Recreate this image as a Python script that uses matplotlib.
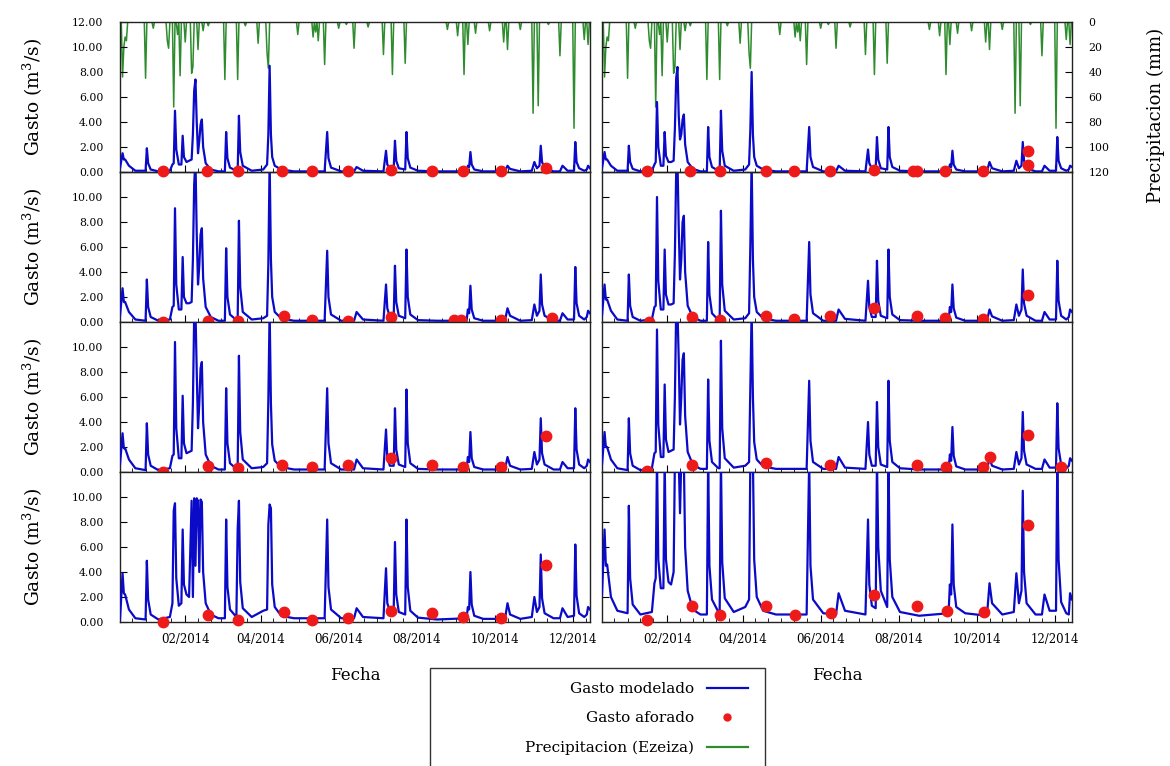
import matplotlib
matplotlib.use('Agg')
import matplotlib.pyplot as plt
import matplotlib.dates as mdates
import matplotlib.ticker as mticker
from matplotlib.lines import Line2D
from matplotlib.patches import Rectangle
import numpy as np

plt.rcParams['font.family'] = 'DejaVu Serif'
plt.rcParams['mathtext.fontset'] = 'dejavuserif'

# dias contados desde 2014-01-01 (vertices del hidrograma, comunes a todos los paneles)
dias = [-20, -18, -17, -16, -13, -8,
        0, 1, 2, 4, 10,
        19, 21, 22, 23, 24, 26,
        28, 29, 30, 32, 34,
        36, 37, 38, 39, 40, 41, 42, 43, 44, 45, 47, 51, 57,
        62, 63, 64, 66, 71,
        72, 73, 74, 76, 83,
        92, 95, 96, 97, 98, 99, 101, 106, 116,
        140, 142, 143, 145, 153,
        163, 165, 170,
        186, 188, 189, 191,
        194, 195, 196, 198,
        203, 204, 205, 207, 213, 228,
        251, 252, 253, 254, 255, 257, 264,
        281, 283, 285, 293,
        302, 304, 306, 308, 309, 310, 312, 319,
        324, 326, 330,
        335, 336, 337, 339, 343,
        345, 346, 347.5]

# gasto modelado (m3/s)
q1_izq = [0.3, 1.5, 1.0, 1.0, 0.5, 0.1,
          0.1, 1.9, 0.7, 0.2, 0.05,
          0.1, 0.6, 0.7, 4.9, 1.8, 0.6,
          0.6, 2.9, 1.2, 0.8, 0.9,
          1.0, 3.0, 6.5, 7.4, 4.0, 1.5, 2.5, 3.8, 4.2, 2.0, 0.7, 0.2, 0.05,
          0.05, 3.2, 1.1, 0.35, 0.1,
          0.1, 4.5, 1.6, 0.5, 0.1,
          0.2, 0.6, 3.0, 8.5, 3.0, 1.2, 0.5, 0.2, 0.05,
          0.05, 3.2, 1.1, 0.35, 0.05,
          0.05, 0.4, 0.1,
          0.05, 1.7, 0.6, 0.3,
          0.3, 2.5, 0.9, 0.3,
          0.2, 3.2, 1.1, 0.35, 0.1, 0.05,
          0.05, 0.5, 0.4, 1.6, 0.6, 0.2, 0.05,
          0.05, 0.5, 0.25, 0.05,
          0.1, 0.8, 0.3, 0.5, 2.1, 0.8, 0.3, 0.05,
          0.05, 0.5, 0.1,
          0.1, 2.4, 0.8, 0.3, 0.1,
          0.2, 0.5, 0.3]
q1_der = [0.3, 1.6, 1.0, 1.0, 0.5, 0.1,
          0.1, 2.1, 0.8, 0.25, 0.05,
          0.1, 0.6, 0.8, 5.6, 2.0, 0.5,
          0.5, 3.2, 1.3, 0.8, 0.8,
          0.9, 3.5, 7.5, 8.4, 4.5, 2.6, 3.0, 4.2, 4.6, 2.2, 0.8, 0.25, 0.05,
          0.05, 3.6, 1.2, 0.4, 0.1,
          0.1, 4.9, 1.7, 0.5, 0.1,
          0.2, 0.6, 3.4, 8.0, 3.0, 1.2, 0.5, 0.2, 0.05,
          0.05, 3.6, 1.2, 0.4, 0.05,
          0.05, 0.5, 0.1,
          0.05, 1.8, 0.7, 0.3,
          0.3, 2.8, 1.0, 0.3,
          0.2, 3.6, 1.2, 0.4, 0.1, 0.05,
          0.05, 0.6, 0.4, 1.7, 0.6, 0.2, 0.05,
          0.05, 0.8, 0.3, 0.05,
          0.1, 0.9, 0.3, 0.5, 2.4, 0.9, 0.3, 0.05,
          0.05, 0.5, 0.1,
          0.1, 2.8, 0.9, 0.3, 0.1,
          0.2, 0.5, 0.4]
q2_izq = [0.5, 2.7, 1.6, 1.6, 0.8, 0.2,
          0.1, 3.4, 1.2, 0.4, 0.1,
          0.2, 1.2, 1.3, 9.1, 3.0, 1.0,
          1.0, 5.2, 2.0, 1.5, 1.5,
          1.6, 5.0, 11.0, 13.0, 7.0, 3.0, 4.5, 7.0, 7.5, 3.5, 1.2, 0.4, 0.1,
          0.1, 5.9, 2.0, 0.6, 0.15,
          0.15, 8.1, 2.8, 0.8, 0.2,
          0.3, 0.5, 4.7, 13.0, 5.0, 2.0, 0.8, 0.3, 0.1,
          0.1, 5.7, 2.0, 0.6, 0.1,
          0.1, 0.8, 0.2,
          0.1, 3.0, 1.1, 0.4,
          0.4, 4.5, 1.6, 0.5,
          0.3, 5.8, 2.0, 0.6, 0.15, 0.1,
          0.1, 1.0, 0.7, 2.9, 1.0, 0.3, 0.1,
          0.1, 1.1, 0.5, 0.1,
          0.15, 1.4, 0.5, 0.9, 3.8, 1.4, 0.5, 0.1,
          0.1, 0.7, 0.2,
          0.2, 4.4, 1.5, 0.5, 0.2,
          0.4, 0.9, 0.7]
q2_der = [0.5, 3.0, 1.8, 1.8, 0.9, 0.2,
          0.1, 3.8, 1.3, 0.4, 0.1,
          0.2, 1.2, 1.3, 10.0, 3.3, 1.0,
          1.0, 5.8, 2.2, 1.4, 1.4,
          1.5, 5.5, 12.0, 13.0, 7.5, 3.4, 5.0, 8.0, 8.5, 4.0, 1.3, 0.4, 0.1,
          0.1, 6.4, 2.2, 0.7, 0.15,
          0.15, 8.9, 3.0, 0.9, 0.2,
          0.3, 0.7, 6.1, 13.0, 5.0, 2.0, 0.8, 0.3, 0.1,
          0.1, 6.4, 2.2, 0.7, 0.1,
          0.1, 1.0, 0.25,
          0.1, 3.3, 1.2, 0.4,
          0.4, 4.9, 1.7, 0.5,
          0.3, 5.8, 2.0, 0.6, 0.15, 0.1,
          0.1, 1.2, 0.8, 3.0, 1.1, 0.35, 0.1,
          0.1, 1.0, 0.45, 0.1,
          0.15, 1.4, 0.5, 1.0, 4.2, 1.5, 0.5, 0.1,
          0.1, 0.8, 0.2,
          0.2, 4.9, 1.7, 0.5, 0.2,
          0.4, 1.0, 0.8]
q3_izq = [0.6, 3.1, 1.9, 1.9, 1.0, 0.3,
          0.15, 3.9, 1.4, 0.5, 0.15,
          0.3, 1.3, 1.4, 10.4, 3.5, 1.1,
          1.1, 6.1, 2.3, 1.5, 1.6,
          1.7, 5.5, 12.5, 13.0, 8.0, 3.5, 5.5, 8.3, 8.8, 4.0, 1.4, 0.5, 0.2,
          0.2, 6.7, 2.3, 0.7, 0.25,
          0.25, 9.3, 3.2, 1.0, 0.3,
          0.4, 0.7, 5.8, 13.0, 5.5, 2.2, 0.9, 0.4, 0.2,
          0.2, 6.7, 2.3, 0.7, 0.2,
          0.2, 1.0, 0.3,
          0.2, 3.4, 1.2, 0.5,
          0.5, 5.1, 1.8, 0.6,
          0.4, 6.6, 2.3, 0.7, 0.25, 0.2,
          0.2, 1.2, 0.8, 3.2, 1.1, 0.4, 0.2,
          0.2, 1.2, 0.5, 0.2,
          0.25, 1.6, 0.6, 1.0, 4.3, 1.5, 0.6, 0.2,
          0.2, 0.8, 0.3,
          0.3, 5.1, 1.8, 0.6, 0.3,
          0.5, 1.0, 0.8]
q3_der = [0.6, 3.2, 2.0, 2.0, 1.0, 0.3,
          0.15, 4.3, 1.5, 0.5, 0.15,
          0.3, 1.5, 1.6, 11.4, 3.8, 1.2,
          1.2, 7.0, 2.6, 1.6, 1.7,
          1.8, 6.0, 13.0, 13.0, 9.0, 3.8, 6.0, 9.0, 9.5, 4.5, 1.6, 0.6, 0.25,
          0.25, 7.4, 2.5, 0.8, 0.3,
          0.3, 10.5, 3.5, 1.1, 0.35,
          0.5, 0.8, 6.8, 13.0, 6.0, 2.4, 1.0, 0.45, 0.25,
          0.25, 7.3, 2.5, 0.8, 0.25,
          0.25, 1.2, 0.35,
          0.25, 4.0, 1.4, 0.5,
          0.5, 5.6, 2.0, 0.6,
          0.4, 7.3, 2.5, 0.8, 0.3, 0.2,
          0.2, 1.4, 0.9, 3.6, 1.3, 0.45, 0.2,
          0.2, 1.1, 0.5, 0.2,
          0.25, 1.6, 0.6, 1.1, 4.8, 1.7, 0.6, 0.25,
          0.25, 1.0, 0.35,
          0.35, 5.5, 1.9, 0.6, 0.3,
          0.5, 1.1, 0.9]
q4_izq = [0.2, 3.9, 2.3, 2.2, 1.0, 0.3,
          0.2, 4.9, 1.8, 0.6, 0.2,
          0.4, 1.5, 8.9, 9.5, 3.5, 1.3,
          1.5, 7.4, 3.0, 2.2, 2.0,
          9.7, 2.0, 9.9, 4.5, 9.9, 9.7, 4.0, 9.8, 9.6, 4.0, 1.5, 0.6, 0.3,
          0.3, 8.2, 2.8, 1.0, 0.4,
          7.4, 9.7, 3.2, 1.1, 0.4,
          0.9, 1.0, 7.8, 9.4, 9.1, 3.0, 1.2, 0.5, 0.3,
          0.3, 8.2, 2.8, 1.0, 0.3,
          0.3, 1.1, 0.4,
          0.3, 4.3, 1.5, 0.9,
          0.9, 6.4, 2.2, 0.8,
          0.6, 8.2, 2.8, 0.9, 0.35, 0.2,
          0.3, 1.2, 1.0, 4.0, 1.4, 0.5, 0.25,
          0.25, 1.5, 0.6, 0.25,
          0.4, 2.0, 0.8, 1.2, 5.4, 1.9, 0.7, 0.3,
          0.3, 1.1, 0.4,
          0.5, 6.2, 2.1, 0.7, 0.4,
          0.6, 1.2, 1.0]
q4_der = [2.2, 7.4, 4.5, 4.6, 2.0, 0.9,
          0.7, 9.3, 3.5, 1.4, 0.6,
          0.8, 3.1, 3.5, 13.0, 5.0, 2.7,
          2.7, 13.0, 5.0, 3.2, 3.0,
          4.0, 13.0, 13.0, 13.0, 13.0, 8.7, 13.0, 13.0, 13.0, 6.0, 2.5, 1.0, 0.6,
          0.6, 13.0, 4.5, 1.8, 0.8,
          0.8, 13.0, 4.8, 1.9, 0.8,
          1.2, 1.8, 13.0, 13.0, 13.0, 5.0, 2.0, 0.9, 0.6,
          0.6, 13.0, 4.5, 1.8, 0.7,
          0.6, 2.3, 0.9,
          0.6, 8.2, 3.0, 1.3,
          1.1, 13.0, 6.0, 2.5,
          1.2, 13.0, 5.0, 2.0, 0.8, 0.5,
          0.7, 3.0, 2.2, 7.8, 3.0, 1.2, 0.7,
          0.5, 3.1, 1.5, 0.6,
          0.8, 3.9, 1.5, 2.5, 10.5, 4.0, 1.5, 0.6,
          0.6, 2.2, 0.9,
          0.9, 13.0, 5.0, 1.6, 0.7,
          0.6, 2.3, 1.8]

# gasto aforado: dia y valor
af1_izq_d = [14, 48, 72, 107, 130, 158, 192, 224, 248, 278, 313]
af1_izq_q = [0.05, 0.05, 0.05, 0.1, 0.05, 0.05, 0.15, 0.05, 0.05, 0.05, 0.3]
af1_der_d = [15, 49, 72, 108, 130, 158, 193, 223, 226, 248, 278, 313, 313]
af1_der_q = [0.05, 0.05, 0.05, 0.1, 0.05, 0.1, 0.2, 0.1, 0.1, 0.05, 0.05, 1.7, 0.6]
af2_izq_d = [14, 49, 72, 108, 130, 158, 192, 241, 247, 278, 318]
af2_izq_q = [0.0, 0.1, 0.1, 0.5, 0.2, 0.1, 0.4, 0.2, 0.2, 0.2, 0.3]
af2_der_d = [17, 50, 72, 108, 130, 158, 193, 226, 248, 278, 313]
af2_der_q = [0.0, 0.4, 0.15, 0.5, 0.25, 0.5, 1.1, 0.5, 0.35, 0.25, 2.2]
af3_izq_d = [14, 49, 72, 107, 130, 158, 192, 224, 248, 278, 313]
af3_izq_q = [0.0, 0.5, 0.3, 0.6, 0.4, 0.6, 1.1, 0.6, 0.4, 0.4, 2.9]
af3_der_d = [15, 50, 108, 158, 226, 249, 278, 283, 313, 339]
af3_der_q = [0.1, 0.6, 0.7, 0.6, 0.6, 0.4, 0.4, 1.2, 3.0, 0.4]
af4_izq_d = [14, 49, 72, 108, 130, 158, 192, 224, 248, 278, 313]
af4_izq_q = [0.0, 0.6, 0.2, 0.8, 0.2, 0.3, 0.9, 0.7, 0.4, 0.3, 4.6]
af4_der_d = [15, 50, 72, 108, 131, 159, 193, 226, 250, 279, 313]
af4_der_q = [0.2, 1.25, 0.6, 1.3, 0.6, 0.7, 2.2, 1.25, 0.85, 0.8, 7.8]

# precipitacion Ezeiza (mm), solo dias con lluvia
lluvia_dias = [-18, -17, -16, -15, 0, 6, 17, 18, 22, 25, 27, 31, 36, 37, 41, 45, 49,
               62, 72, 78, 88, 95, 96, 119, 131, 133, 135, 140, 151, 157, 163, 174,
               186, 193, 203, 236, 244, 249, 252, 258, 269, 280, 283, 293, 303, 307,
               315, 324, 335, 343, 346]
lluvia_mm = [44, 20, 12, 15, 45, 5, 15, 21, 68, 10, 43, 16, 41, 36, 22, 7, 3,
             46, 46, 3, 17, 25, 37, 10, 12, 8, 15, 34, 5, 2, 21, 4,
             26, 42, 33, 6, 11, 42, 18, 9, 7, 16, 22, 6, 73, 67,
             2, 27, 85, 14, 18]

azul = '#0a0ac8'
rojo = '#ee1a1a'
verde = '#2e8b2e'

base = mdates.date2num(np.datetime64('2014-01-01'))
x_q = base + np.array(dias)
dias_pp = np.arange(-20, 348)
pp = np.zeros(len(dias_pp))
for d, mm in zip(lluvia_dias, lluvia_mm):
    pp[d + 20] = mm
x_pp = base + dias_pp

paneles = [(q1_izq, af1_izq_d, af1_izq_q), (q1_der, af1_der_d, af1_der_q),
           (q2_izq, af2_izq_d, af2_izq_q), (q2_der, af2_der_d, af2_der_q),
           (q3_izq, af3_izq_d, af3_izq_q), (q3_der, af3_der_d, af3_der_q),
           (q4_izq, af4_izq_d, af4_izq_q), (q4_der, af4_der_d, af4_der_q)]

fig = plt.figure(figsize=(11.7, 7.66), dpi=100)
W, H = 1170.0, 766.0
izq = [120, 602]

for i, (q, af_d, af_q) in enumerate(paneles):
    fila = i // 2
    col = i % 2
    ax = fig.add_axes([izq[col] / W, 1 - (22 + 150 * (fila + 1)) / H, 470 / W, 150 / H])
    ax.plot(x_q, q, color=azul, lw=1.6, zorder=3)
    ax.plot(base + np.array(af_d), af_q, 'o', color=rojo, ms=7.5, zorder=5, clip_on=False)
    ax.set_xlim(base - 20, base + 347.5)
    ax.set_ylim(0, 12)
    if fila == 0:
        ax.set_yticks(np.arange(0, 13, 2))
    else:
        ax.set_yticks(np.arange(0, 11, 2))
    ax.yaxis.set_major_formatter(mticker.FormatStrFormatter('%.2f'))
    ax.xaxis.set_major_locator(mdates.MonthLocator(bymonth=[2, 4, 6, 8, 10, 12]))
    ax.xaxis.set_minor_locator(mdates.DayLocator(bymonthday=[1, 11, 21]))
    ax.xaxis.set_major_formatter(mdates.DateFormatter('%m/%Y'))
    ax.tick_params(axis='both', which='major', direction='in', length=5)
    ax.tick_params(axis='x', which='minor', direction='in', length=3)
    ax.tick_params(axis='y', pad=12, labelsize=7.8)
    ax.tick_params(axis='x', pad=8, labelsize=8.5)
    for s in ax.spines.values():
        s.set_linewidth(1.0)
        s.set_color('#222222')
    if col == 1:
        ax.tick_params(labelleft=False)
    else:
        ax.set_ylabel(r'Gasto (m$^3$/s)', fontsize=13.5)
        ax.yaxis.set_label_coords(-0.16, 0.5)
    if fila < 3:
        ax.tick_params(labelbottom=False)
    else:
        ax.set_xlabel('Fecha', fontsize=12)
        ax.xaxis.set_label_coords(0.5, -0.3)

    if fila == 0:
        ax2 = ax.twinx()
        ax2.plot(x_pp, pp, color=verde, lw=1.1)
        ax2.set_ylim(120, 0)
        ax2.set_xlim(base - 20, base + 347.5)
        ax.set_zorder(ax2.get_zorder() + 1)
        ax.patch.set_visible(False)
        for s in ax2.spines.values():
            s.set_visible(False)
        if col == 1:
            ax2.set_yticks(np.arange(0, 121, 20))
            ax2.tick_params(axis='y', direction='in', length=5, labelsize=7.8, pad=12)
            ax2.set_ylabel('Precipitacion (mm)', fontsize=13)
            ax2.yaxis.set_label_coords(1.16, 0.38)
        else:
            ax2.tick_params(axis='y', right=False, labelright=False)

# leyenda
marco = Rectangle((430 / W, -0.05), 335 / W, 0.05 + 1 - 668 / H, transform=fig.transFigure,
                  fill=False, edgecolor='#333333', lw=1.0, clip_on=False)
fig.patches.append(marco)
manejadores = [Line2D([], [], color=azul, lw=1.6),
               Line2D([], [], ls='none', marker='o', color=rojo, ms=5),
               Line2D([], [], color=verde, lw=1.6)]
fig.legend(manejadores, ['Gasto modelado', 'Gasto aforado', 'Precipitacion (Ezeiza)'],
           loc='upper right', bbox_to_anchor=(760 / W, 1 - 670 / H), frameon=False,
           markerfirst=False, fontsize=11, handlelength=2.7, handletextpad=0.8,
           labelspacing=1.0, borderpad=0.3)

fig.savefig('out.png', dpi=100)
